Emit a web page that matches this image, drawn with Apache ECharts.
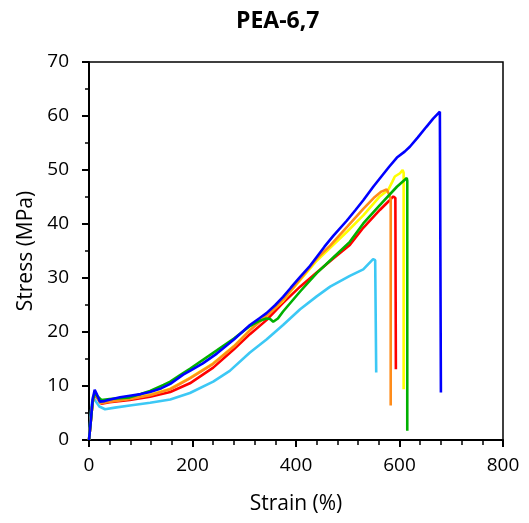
<!DOCTYPE html>
<html><head><meta charset="utf-8">
<script src="https://cdn.jsdelivr.net/npm/echarts@6/dist/echarts.min.js"></script>
<style>html,body{margin:0;padding:0;background:#fff}#c{width:529px;height:523px}</style>
</head><body><div id="c"></div>
<script>
const titleText = 'PEA-6,7';
const xName = 'Strain (%)';
const yName = 'Stress (MPa)';
const xTicks = [0, 200, 400, 600, 800];
const yTicks = [0, 10, 20, 30, 40, 50, 60, 70];

const cyan = [[0,0],[2,3],[5,6.5],[8,8.1],[12,7.3],[20,6.2],[31,5.7],[50,6.0],[79,6.4],[118,6.9],[157,7.5],[195,8.7],[240,10.8],[272,12.8],[311,16.2],[343,18.6],[375,21.3],[408,24.2],[440,26.6],[466,28.4],[504,30.4],[530,31.6],[549,33.5],[553,33.3],[555,12.5]];
const red = [[0,0],[3,3],[7,7],[11,8.6],[15,7.9],[24,6.7],[40,7.0],[79,7.4],[118,8.0],[157,8.9],[195,10.5],[240,13.4],[280,16.8],[311,19.6],[343,22.2],[375,25.4],[408,28.4],[440,31.0],[472,33.6],[504,36.1],[530,39.3],[562,42.6],[580,44.3],[588,45.1],[592,44.8],[593,13.1]];
const yellow = [[0,0],[3,3],[7,7],[11,8.8],[15,8.2],[22,6.9],[40,7.2],[79,7.7],[118,8.4],[157,9.5],[195,11.5],[240,14.2],[280,17.4],[311,20.4],[343,23.0],[375,25.8],[408,29.6],[440,33.2],[466,35.6],[500,38.7],[530,41.6],[562,45.1],[578,46.3],[586,47.8],[591,48.8],[601,49.4],[606,50.0],[608,49.5],[608,9.4]];
const orange = [[0,0],[3,3],[7,7],[11,8.7],[15,8.1],[22,6.8],[40,7.1],[79,7.6],[118,8.3],[157,9.4],[195,11.4],[240,14.1],[280,17.3],[311,20.3],[343,23.0],[356,24.2],[375,26.0],[408,29.8],[440,33.6],[466,36.0],[500,39.6],[530,42.8],[550,44.8],[565,46.0],[575,46.4],[580,45.5],[583,44.5],[583,6.4]];
const green = [[0,0],[3,3],[7,7],[11,8.9],[15,8.2],[24,7.4],[40,7.6],[79,7.9],[100,8.5],[118,9.1],[144,10.2],[157,10.8],[182,12.4],[195,13.2],[247,16.6],[280,18.8],[311,21.1],[330,22.1],[343,22.5],[350,22.4],[356,21.9],[365,22.5],[375,23.8],[408,27.5],[440,30.9],[472,33.8],[504,36.7],[530,40.1],[562,43.5],[595,46.9],[614,48.5],[615,48.0],[615,1.7]];
const blue = [[0,0],[3,3],[7,7.5],[11,9.3],[15,8.5],[21,7.1],[30,7.2],[41,7.5],[60,7.9],[79,8.2],[100,8.5],[118,8.9],[140,9.6],[157,10.4],[182,12.1],[195,12.8],[220,14.2],[247,16.0],[280,18.6],[311,21.3],[330,22.6],[343,23.5],[360,25.0],[375,26.5],[390,28.2],[408,30.2],[425,32.0],[440,33.9],[455,35.8],[472,37.8],[498,40.6],[515,42.6],[530,44.4],[550,47.0],[565,48.8],[580,50.6],[595,52.3],[610,53.4],[620,54.3],[635,56.0],[652,58.0],[665,59.5],[678,60.8],[680,60.6],[680,8.8]];

const seriesDefs = [
  {name:'cyan', data:cyan, color:'#3cc8f5'},
  {name:'red', data:red, color:'#ff0000'},
  {name:'yellow', data:yellow, color:'#ffff00'},
  {name:'orange', data:orange, color:'#ff8c1a'},
  {name:'green', data:green, color:'#00b000'},
  {name:'blue', data:blue, color:'#0000ff'}
];

const font = '"Open Sans", "Noto Sans", sans-serif';
const chart = echarts.init(document.getElementById('c'), null, {renderer:'canvas'});
chart.setOption({
  animation:false,
  backgroundColor:'#fff',
  title:{text:titleText, left:231, top:5, textStyle:{fontFamily:font, fontSize:23, fontWeight:'bold', color:'#000'}},
  grid:{left:89, right:26, top:62, bottom:83, show:true, borderColor:'#000', borderWidth:1.5},
  xAxis:{type:'value', min:xTicks[0], max:xTicks[xTicks.length-1], interval:200,
    name:xName, nameLocation:'middle', nameGap:54,
    nameTextStyle:{fontFamily:font, fontSize:21, color:'#000'},
    axisLine:{show:true, lineStyle:{color:'#000', width:2}},
    axisTick:{show:true, length:7, lineStyle:{color:'#000', width:2}},
    minorTick:{show:true, splitNumber:5, length:5, lineStyle:{color:'#000', width:1.5}},
    splitLine:{show:false},
    axisLabel:{fontFamily:font, fontSize:19, color:'#000', margin:16}},
  yAxis:{type:'value', min:yTicks[0], max:yTicks[yTicks.length-1], interval:10,
    name:yName, nameLocation:'middle', nameGap:52, nameRotate:90,
    nameTextStyle:{fontFamily:font, fontSize:21, color:'#000'},
    axisLine:{show:true, lineStyle:{color:'#000', width:2}},
    axisTick:{show:true, length:7, lineStyle:{color:'#000', width:2}},
    minorTick:{show:true, splitNumber:2, length:4, lineStyle:{color:'#000', width:1.5}},
    splitLine:{show:false},
    axisLabel:{fontFamily:font, fontSize:19, color:'#000', margin:20}},
  series: seriesDefs.map(s => ({type:'line', name:s.name, data:s.data, showSymbol:false, symbol:'none',
    lineStyle:{color:s.color, width:2.6}, itemStyle:{color:s.color}}))
});
</script></body></html>
